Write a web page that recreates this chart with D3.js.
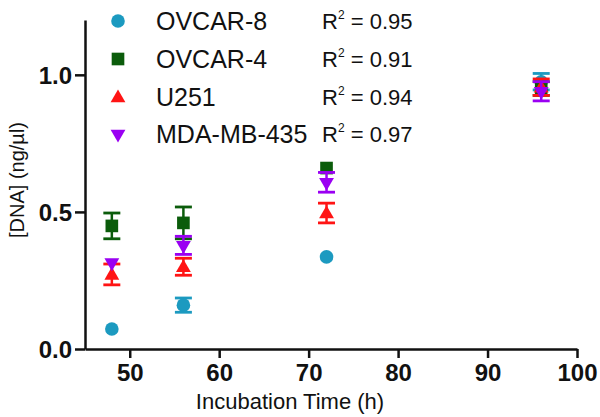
<!DOCTYPE html>
<html>
<head>
<meta charset="utf-8">
<script src="https://cdn.jsdelivr.net/npm/d3@7"></script>
<style>
  body { margin: 0; background: #fff; }
  text { font-family: "Liberation Sans", Arial, sans-serif; fill: #111; }
</style>
</head>
<body>
<svg id="chart" width="600" height="417"></svg>
<script>
let hours = [48, 56, 72, 96]

let series_names = ['OVCAR-8', 'OVCAR-4', 'U251', 'MDA-MB-435']
let r2_labels = ['0.95', '0.91', '0.94', '0.97']

let ovcar8_mean = [0.073, 0.16, 0.336, 0.975]
let ovcar8_err = [0, 0.026, 0, 0.03]
let ovcar4_mean = [0.449, 0.46, 0.66, 0.95]
let ovcar4_err = [0.047, 0.058, 0, 0.025]
let u251_mean = [0.272, 0.30, 0.496, 0.955]
let u251_err = [0.038, 0.031, 0.036, 0.03]
let mda_mean = [0.315, 0.378, 0.608, 0.94]
let mda_err = [0, 0.033, 0.036, 0.035]

let x_ticks = [50, 60, 70, 80, 90, 100]
let y_ticks = [0, 0.5, 1.0]

let colors = ['#1c9ac0', '#0b5c0b', '#ff1414', '#9a00f2']
let shapes = [d3.symbolCircle, d3.symbolSquare, d3.symbolTriangle, 'down']

let series = [
    {name: series_names[0], mean: ovcar8_mean, err: ovcar8_err},
    {name: series_names[1], mean: ovcar4_mean, err: ovcar4_err},
    {name: series_names[2], mean: u251_mean, err: u251_err},
    {name: series_names[3], mean: mda_mean, err: mda_err}
]

let svg = d3.select('#chart')

let x = d3.scaleLinear().domain([45, 100]).range([85, 577])
let y = d3.scaleLinear().domain([0, 1.2]).range([349, 20])

// marker path, the down triangle is the up one flipped
function marker(i) {
    let s = shapes[i]
    if (s === 'down' || s === d3.symbolTriangle)
        return d3.symbol().type(d3.symbolTriangle).size(95)()
    if (s === d3.symbolCircle)
        return d3.symbol().type(s).size(145)()
    return d3.symbol().type(s).size(160)()
}

function marker_transform(i, px, py) {
    if (shapes[i] === 'down')
        return `translate(${px},${py}) rotate(180)`
    if (shapes[i] === d3.symbolTriangle)
        return `translate(${px},${py + 1})`
    return `translate(${px},${py})`
}

// axes
let xAxis = svg.append('g')
    .attr('transform', `translate(0,${y(0)})`)
    .call(d3.axisBottom(x).tickValues(x_ticks).tickSize(9).tickPadding(6).tickSizeOuter(0))
let yAxis = svg.append('g')
    .attr('transform', `translate(${x(45)},0)`)
    .call(d3.axisLeft(y).tickValues(y_ticks).tickFormat(d3.format('.1f')).tickSize(10).tickPadding(3).tickSizeOuter(0))

;[xAxis, yAxis].forEach(a => {
    a.select('.domain').attr('stroke', '#111').attr('stroke-width', 2.5)
    a.selectAll('.tick line').attr('stroke', '#111').attr('stroke-width', 2.5)
    a.selectAll('.tick text')
        .style('font-family', '"Liberation Sans", Arial, sans-serif')
        .style('font-size', '24px')
        .style('font-weight', 'bold')
        .attr('fill', '#111')
})
yAxis.selectAll('.tick text').attr('dy', '0.36em')
xAxis.selectAll('.tick text').attr('dy', '0.72em')

svg.append('text')
    .attr('x', 290)
    .attr('y', 409)
    .attr('text-anchor', 'middle')
    .style('font-size', '22px')
    .text('Incubation Time (h)')

svg.append('text')
    .attr('transform', `translate(24,180) rotate(-90)`)
    .attr('text-anchor', 'middle')
    .style('font-size', '20px')
    .text('[DNA] (ng/µl)')

// data: error bars then marker, series by series
series.forEach((s, i) => {
    let g = svg.append('g').attr('class', `series-${i}`)
    hours.forEach((h, j) => {
        let px = x(h)
        if (s.err[j] > 0) {
            let top = y(s.mean[j] + s.err[j])
            let bot = y(s.mean[j] - s.err[j])
            g.append('line')
                .attr('x1', px).attr('x2', px)
                .attr('y1', top).attr('y2', bot)
                .attr('stroke', colors[i]).attr('stroke-width', 2.5)
            ;[top, bot].forEach(cy => {
                g.append('line')
                    .attr('x1', px - 8.5).attr('x2', px + 8.5)
                    .attr('y1', cy).attr('y2', cy)
                    .attr('stroke', colors[i]).attr('stroke-width', 2.8)
            })
        }
        g.append('path')
            .attr('d', marker(i))
            .attr('transform', marker_transform(i, px, y(s.mean[j])))
            .attr('fill', colors[i])
    })
})

// legend
let legend_rows = [21, 59, 97, 134]
series.forEach((s, i) => {
    let row = svg.append('g').attr('transform', `translate(0,${legend_rows[i]})`)
    row.append('path')
        .attr('d', marker(i))
        .attr('transform', marker_transform(i, 118, 0))
        .attr('fill', colors[i])
    row.append('text')
        .attr('x', 156)
        .attr('y', 9)
        .style('font-size', '25px')
        .text(s.name)
    let r2 = row.append('text')
        .attr('x', 322)
        .attr('y', 8)
        .style('font-size', '22px')
    r2.append('tspan').text('R')
    r2.append('tspan').attr('dy', -10).style('font-size', '12px').text('2')
    r2.append('tspan').attr('dy', 10).text(' = ' + r2_labels[i])
})
</script>
</body>
</html>
